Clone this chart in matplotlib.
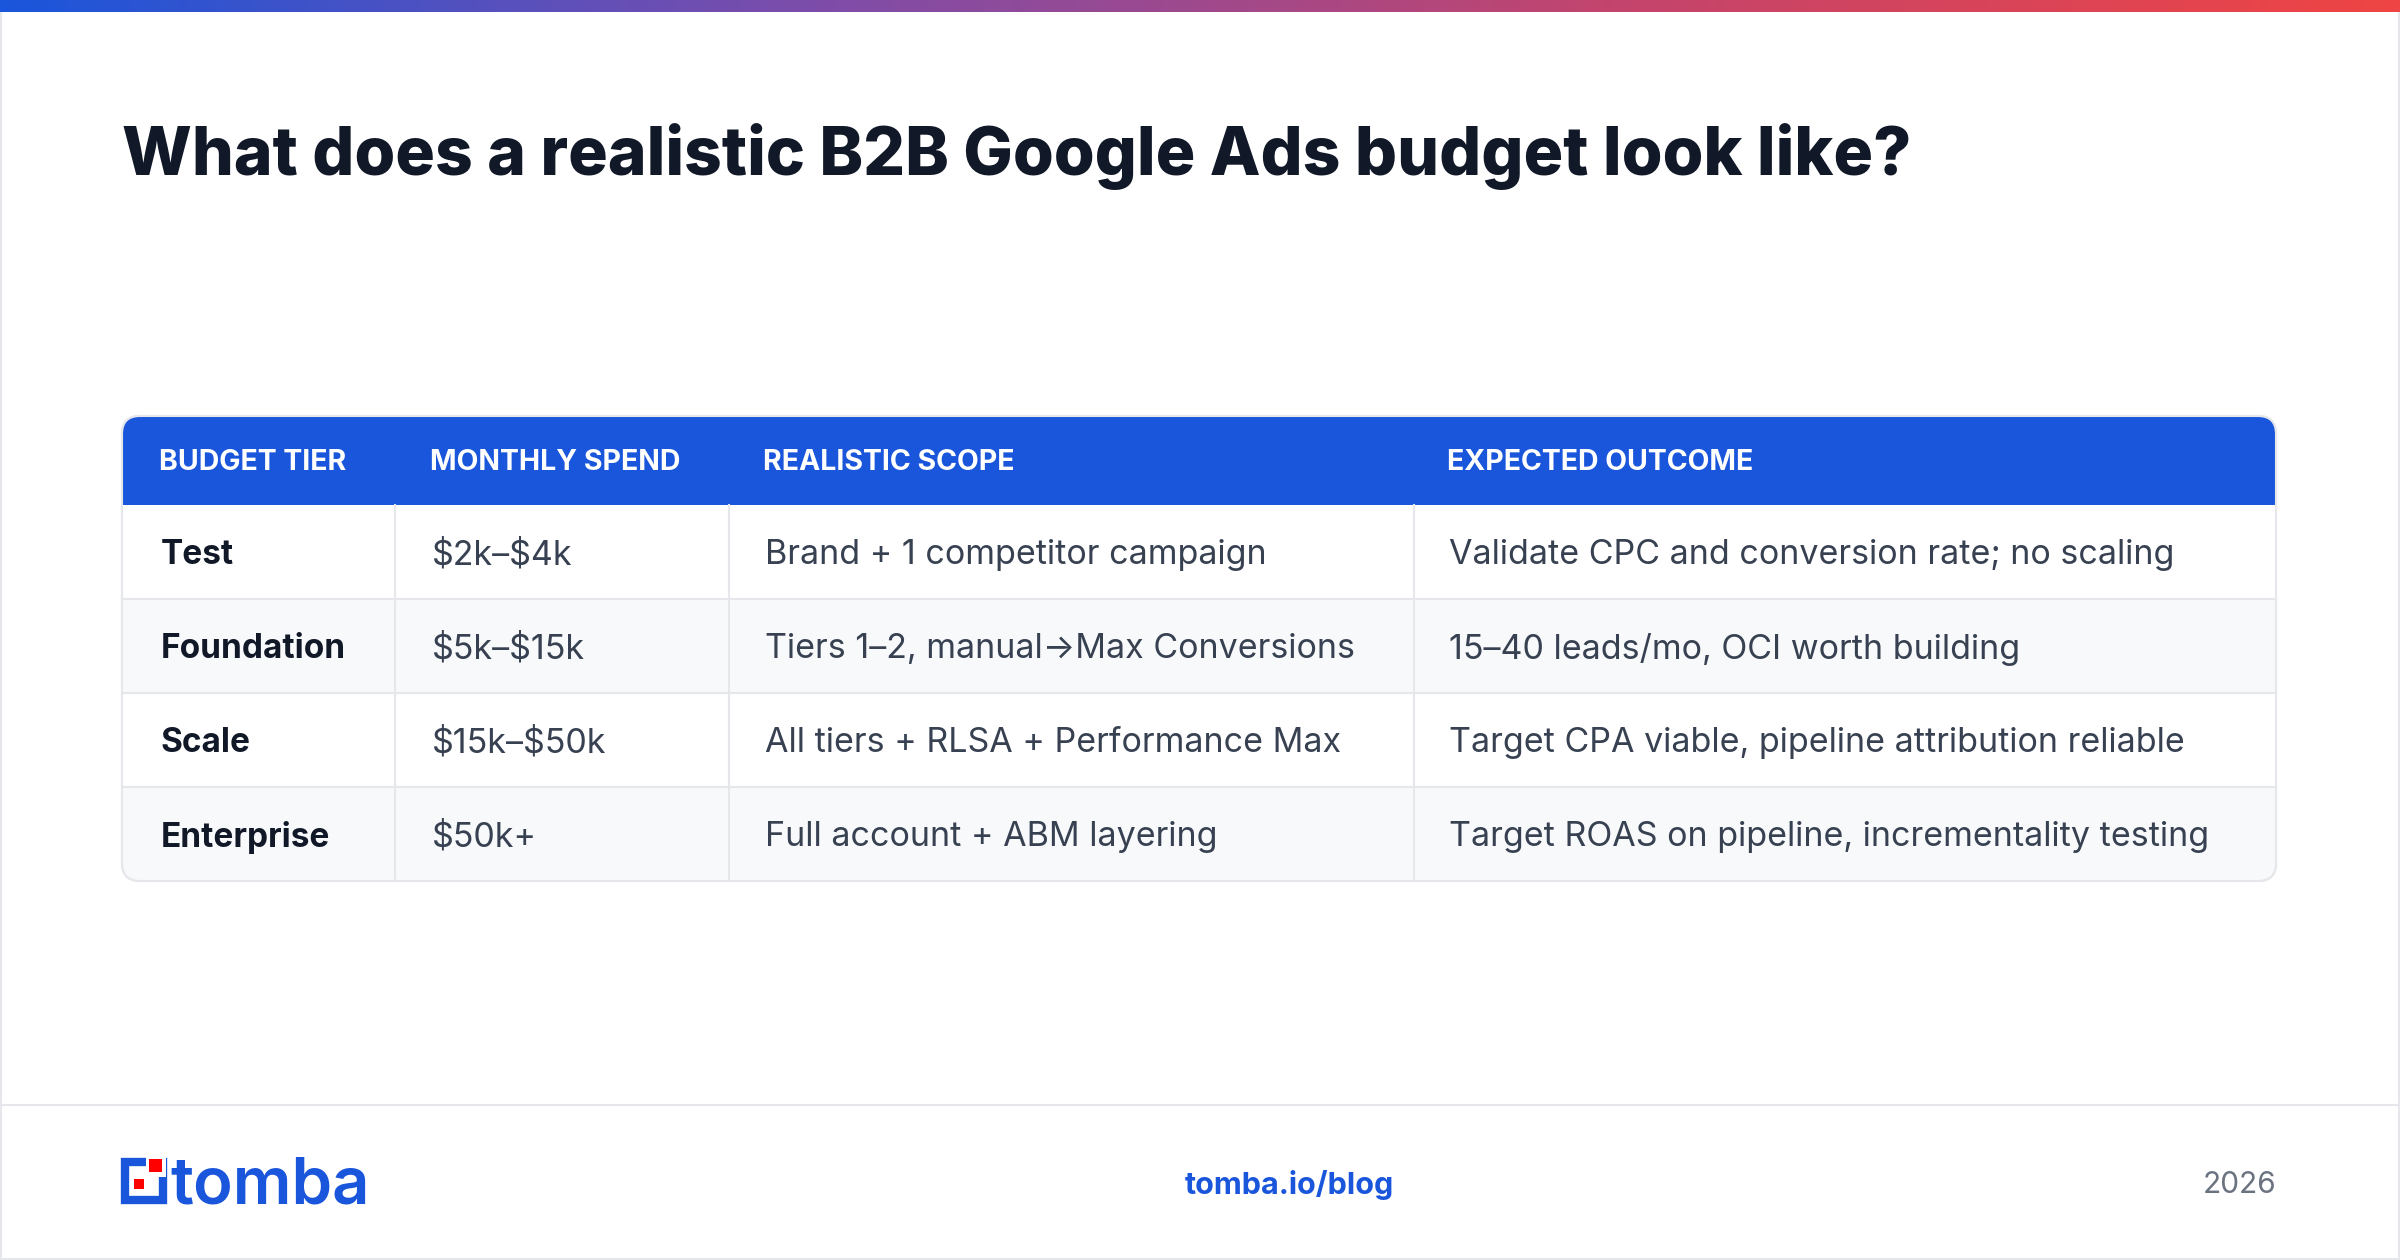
import numpy as np
import matplotlib.pyplot as plt
from matplotlib.patches import Rectangle, FancyBboxPatch
from matplotlib.colors import LinearSegmentedColormap

plt.rcParams['font.family'] = ['Inter', 'DejaVu Sans']

title = "What does a realistic B2B Google Ads budget look like?"
headers = ["BUDGET TIER", "MONTHLY SPEND", "REALISTIC SCOPE", "EXPECTED OUTCOME"]
tiers = ["Test", "Foundation", "Scale", "Enterprise"]
spend = ["$2k–$4k", "$5k–$15k", "$15k–$50k", "$50k+"]
scope = ["Brand + 1 competitor campaign", "Tiers 1–2, manual→Max Conversions",
         "All tiers + RLSA + Performance Max", "Full account + ABM layering"]
outcome = ["Validate CPC and conversion rate; no scaling", "15–40 leads/mo, OCI worth building",
           "Target CPA viable, pipeline attribution reliable",
           "Target ROAS on pipeline, incrementality testing"]

BLUE = '#1a56db'
DARK = '#111827'
BODY = '#374151'
GRID = '#e5e7eb'

fig = plt.figure(figsize=(24, 12.6), dpi=100)
ax = fig.add_axes([0, 0, 1, 1])
ax.set_xlim(0, 2400)
ax.set_ylim(1260, 0)
ax.axis('off')

# page border and top gradient bar
ax.add_patch(Rectangle((1, 1), 2398, 1258, fill=False, ec=GRID, lw=1.5))
cmap = LinearSegmentedColormap.from_list('bar', ['#1a56db', '#7c4dab', '#c2456e', '#ef4444'])
ax.imshow(np.linspace(0, 1, 256)[None, :], cmap=cmap, aspect='auto',
          extent=(0, 2400, 12, 0), zorder=3)

ax.text(122, 157, title, fontsize=47.5, fontweight='heavy', color=DARK, va='center')

# table
x0, x1 = 122, 2276
col_x = [122, 395, 729, 1414, 2276]
text_x = [161, 432, 765, 1449]
y_head, y_body, row_h = 416, 505, 94
y_end = y_body + row_h * len(tiers)

outline = FancyBboxPatch((x0, y_head), x1 - x0, y_end - y_head,
                         boxstyle='round,pad=0,rounding_size=18',
                         fc='white', ec=GRID, lw=1.5, zorder=1)
ax.add_patch(outline)

hdr = Rectangle((x0, y_head), x1 - x0, y_body - y_head, fc=BLUE, ec='none', zorder=2)
ax.add_patch(hdr)
hdr.set_clip_path(outline)
for i, h in enumerate(headers):
    ax.text(text_x[i] - 2, (y_head + y_body) / 2 + 2, h, fontsize=20.5, fontweight='bold',
            color='white', va='center', zorder=4)

for r in range(len(tiers)):
    yt = y_body + r * row_h
    fc = 'white' if r % 2 == 0 else '#f8f9fb'
    cell = Rectangle((x0, yt), x1 - x0, row_h, fc=fc, ec='none', zorder=2)
    ax.add_patch(cell)
    cell.set_clip_path(outline)
    if r > 0:
        ax.plot([x0, x1], [yt, yt], color=GRID, lw=1.5, zorder=3)
    yc = yt + row_h / 2 + 3
    vals = [tiers[r], spend[r], scope[r], outcome[r]]
    for i, v in enumerate(vals):
        ax.text(text_x[i], yc, v, fontsize=24.5 if i else 24, va='center', zorder=4,
                color=DARK if i == 0 else BODY, parse_math=False,
                fontweight='bold' if i == 0 else 'normal')
for cx in col_x[1:-1]:
    ax.plot([cx, cx], [y_body, y_end], color=GRID, lw=1.5, zorder=3)
ax.add_patch(FancyBboxPatch((x0, y_head), x1 - x0, y_end - y_head,
                            boxstyle='round,pad=0,rounding_size=18',
                            fc='none', ec=GRID, lw=1.5, zorder=5))

# footer
ax.plot([0, 2400], [1105, 1105], color=GRID, lw=1.5)
# logo mark
ax.add_patch(Rectangle((125, 1162), 38, 38, fill=False, ec=BLUE, lw=6))
ax.add_patch(Rectangle((146, 1157), 20, 20, fc='white', ec='none'))
ax.add_patch(Rectangle((149, 1159), 13, 13, fc='#ff0000', ec='none'))
ax.add_patch(Rectangle((134, 1179), 10, 10, fc='#ff0000', ec='none'))
ax.text(170, 1186, "tomba", fontsize=47, fontweight='semibold', color=BLUE, va='center')

ax.text(1289, 1185, "tomba.io/blog", fontsize=22, fontweight='bold', color=BLUE,
        ha='center', va='center')
ax.text(2276, 1185, "2026", fontsize=21.5, color='#6b7280', ha='right', va='center')

fig.savefig('out.png', dpi=100, facecolor='white')
